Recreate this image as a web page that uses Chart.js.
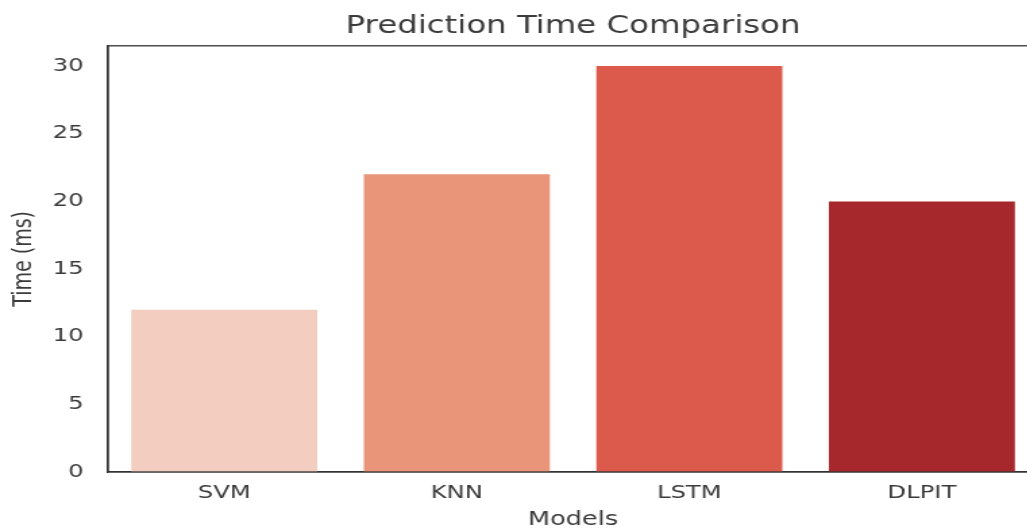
<!DOCTYPE html>
<html>
<head>
<meta charset="utf-8">
<script src="https://cdn.jsdelivr.net/npm/chart.js@4"></script>
<style>
  html, body { margin: 0; padding: 0; background: #fff; overflow: hidden; }
  #wrap { width: 774px; height: 531px; transform: scaleX(1.35); transform-origin: 0 0; }
</style>
</head>
<body>
<div id="wrap"><canvas id="timeChart" width="774" height="531"></canvas></div>
<script>
// Prediction time per model (ms)
const models = ["SVM", "KNN", "LSTM", "DLPIT"];
const predTimes = [12, 22, 30, 20];
const barColors = ["#f3cdbf", "#e9957a", "#dc5a4b", "#a6282d"];
const yTicks = [0, 5, 10, 15, 20, 25, 30];

const textColor = "#3b3b3b";
const spineColor = "#333333";

// draw the full box around the plot, like the matplotlib spines
const frame = {
    id: "frame",
    afterDraw(chart) {
        const a = chart.chartArea;
        const ctx = chart.ctx;
        ctx.save();
        ctx.strokeStyle = spineColor;
        ctx.lineWidth = 1.3;
        ctx.strokeRect(a.left, a.top, a.right - a.left, a.bottom - a.top);
        ctx.restore();
    }
};

const ctx = document.getElementById("timeChart");
new Chart(ctx.getContext("2d"), {
    type: "bar",
    data: {
        labels: models,
        datasets: [{
            label: "Time (ms)",
            data: predTimes,
            backgroundColor: barColors,
            borderWidth: 0,
            barPercentage: 0.8,
            categoryPercentage: 1.0
        }]
    },
    options: {
        responsive: false,
        animation: false,
        devicePixelRatio: 1,
        layout: { padding: { left: 0, right: 5, top: 0, bottom: 0 } },
        plugins: {
            legend: { display: false },
            tooltip: { enabled: false },
            title: {
                display: true,
                fullSize: false,
                text: "Prediction Time Comparison",
                color: textColor,
                font: { family: "DejaVu Sans", size: 24, weight: "normal" },
                padding: { top: 12, bottom: 5 }
            }
        },
        scales: {
            x: {
                grid: { display: false, drawTicks: false },
                border: { display: true, color: spineColor, width: 1.3 },
                ticks: {
                    color: textColor,
                    padding: 11,
                    font: { family: "DejaVu Sans", size: 18 }
                },
                title: {
                    display: true,
                    text: "Models",
                    color: textColor,
                    font: { family: "DejaVu Sans", size: 19 },
                    padding: { top: 4, bottom: 0 }
                },
                afterFit(scale) { scale.height = 59; }
            },
            y: {
                min: 0,
                max: 31.5,
                grid: { display: false, drawTicks: false },
                border: { display: true, color: spineColor, width: 1.3 },
                afterBuildTicks(scale) {
                    scale.ticks = yTicks.map(v => ({ value: v }));
                },
                ticks: {
                    color: textColor,
                    padding: 18,
                    font: { family: "DejaVu Sans", size: 18 }
                },
                title: {
                    display: true,
                    text: "Time (ms)",
                    color: textColor,
                    font: { family: "DejaVu Sans", size: 19 },
                    padding: { top: 7, bottom: 0 }
                },
                afterFit(scale) { scale.width = 80; }
            }
        }
    },
    plugins: [frame]
});
</script>
</body>
</html>
